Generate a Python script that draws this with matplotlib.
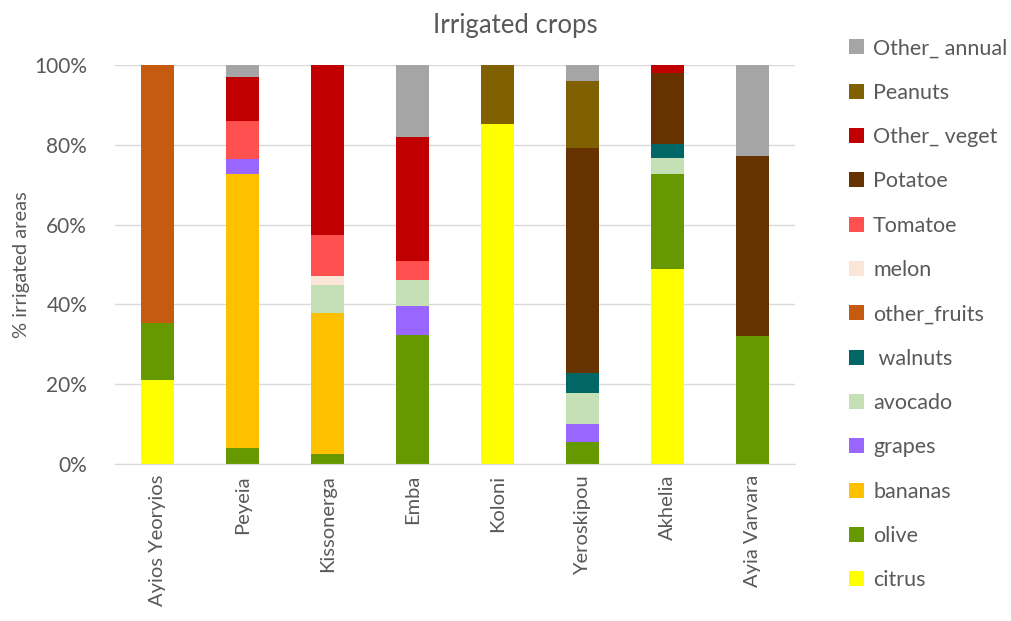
import numpy as np
import matplotlib.pyplot as plt
from matplotlib.ticker import FuncFormatter
from matplotlib.patches import Patch

plt.rcParams['font.family'] = ['Lato', 'DejaVu Sans']

villages = ['Ayios Yeoryios', 'Peyeia', 'Kissonerga', 'Emba',
            'Koloni', 'Yeroskipou', 'Akhelia', 'Ayia Varvara']

# share of irrigated area (%) per crop, stacked bottom to top
crops = ['citrus', 'olive', 'bananas', 'grapes', 'avocado', ' walnuts',
         'other_fruits', 'melon', 'Tomatoe', 'Potatoe', 'Other_ veget',
         'Peanuts', 'Other_ annual']
citrus       = [21.1, 0.0, 0.0, 0.0, 85.1, 0.0, 48.9, 0.0]
olive        = [14.2, 4.1, 2.4, 32.3, 0.0, 5.5, 23.7, 32.2]
bananas      = [0.0, 68.5, 35.5, 0.0, 0.0, 0.0, 0.0, 0.0]
grapes       = [0.0, 3.9, 0.0, 7.2, 0.0, 4.5, 0.0, 0.0]
avocado      = [0.0, 0.0, 7.0, 6.6, 0.0, 7.7, 4.2, 0.0]
walnuts      = [0.0, 0.0, 0.0, 0.0, 0.0, 5.0, 3.5, 0.0]
other_fruits = [64.7, 0.0, 0.0, 0.0, 0.0, 0.0, 0.0, 0.0]
melon        = [0.0, 0.0, 2.3, 0.0, 0.0, 0.0, 0.0, 0.0]
tomatoe      = [0.0, 9.4, 10.1, 4.9, 0.0, 0.0, 0.0, 0.0]
potatoe      = [0.0, 0.0, 0.0, 0.0, 0.0, 56.5, 17.6, 45.1]
other_veget  = [0.0, 11.0, 42.7, 30.9, 0.0, 0.0, 2.1, 0.0]
peanuts      = [0.0, 0.0, 0.0, 0.0, 14.9, 16.8, 0.0, 0.0]
other_annual = [0.0, 3.1, 0.0, 18.1, 0.0, 4.0, 0.0, 22.7]

series = [citrus, olive, bananas, grapes, avocado, walnuts, other_fruits,
          melon, tomatoe, potatoe, other_veget, peanuts, other_annual]
colors = ['#FFFF00', '#669900', '#FFC000', '#9966FF', '#C5E0B4', '#006666',
          '#C55A11', '#FBE5D6', '#FF5050', '#663300', '#C00000', '#806000',
          '#A5A5A5']

fig = plt.figure(figsize=(10.12, 6.21), dpi=100)
ax = fig.add_axes([115/1012, 1-464/621, 680/1012, 399/621])

x = np.arange(len(villages))
bottom = np.zeros(len(villages))
for vals, col in zip(series, colors):
    vals = np.array(vals)
    ax.bar(x, vals, width=0.39, bottom=bottom, color=col, zorder=2)
    bottom += vals

ax.set_xlim(-0.5, len(villages) - 0.5)
ax.set_ylim(0, 100)
ax.set_yticks(np.arange(0, 101, 20))
ax.yaxis.set_major_formatter(FuncFormatter(lambda v, p: '%d%%' % v))
ax.grid(axis='y', color='#D9D9D9', linewidth=1, zorder=0)
for s in ['top', 'right', 'left']:
    ax.spines[s].set_visible(False)
ax.spines['bottom'].set_color('#D9D9D9')
ax.tick_params(axis='both', length=0, colors='#595959', labelsize=15)
ax.tick_params(axis='y', pad=20)
ax.tick_params(axis='x', pad=8)
ax.set_xticks(x)
ax.set_xticklabels(villages, rotation=90, fontsize=14.5)

ax.set_ylabel('% irrigated areas', fontsize=14.5, color='#595959', labelpad=3)
fig.text(515/1012, 1-25/621, 'Irrigated crops', fontsize=18.5,
         color='#595959', ha='center', va='center')

handles = [Patch(facecolor=c, label=l) for c, l in zip(colors, crops)][::-1]
fig.legend(handles=handles, loc='upper left', bbox_to_anchor=(830/1012, 1-19/621),
           frameon=False, fontsize=15.5, labelcolor='#595959',
           handlelength=0.7, handleheight=0.7, handletextpad=0.4,
           labelspacing=1.13)

fig.savefig('out.png', dpi=100)
